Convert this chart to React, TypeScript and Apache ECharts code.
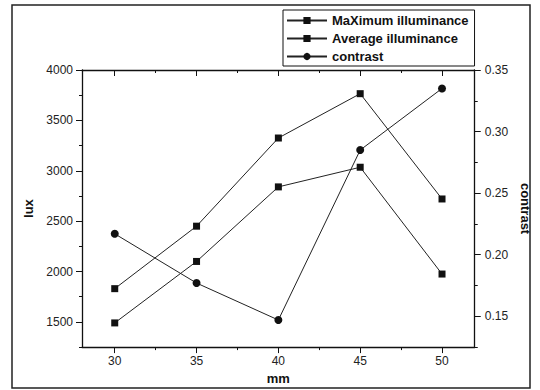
import React, { useEffect, useRef } from "react";
import * as echarts from "echarts";

const xValues = [30, 35, 40, 45, 50];
const maxIlluminance = [1830, 2450, 3325, 3765, 2720];
const avgIlluminance = [1490, 2100, 2840, 3035, 1975];
const contrast = [0.217, 0.177, 0.147, 0.285, 0.335];

const xMajorTicks = [30, 35, 40, 45, 50];
const xMinorTicks = [32.5, 37.5, 42.5, 47.5];
const luxMajorTicks = [1500, 2000, 2500, 3000, 3500, 4000];
const luxMinorTicks = [1250, 1750, 2250, 2750, 3250, 3750];
const contrastMajorTicks = [0.15, 0.2, 0.25, 0.3, 0.35];
const contrastMinorTicks = [0.125, 0.175, 0.225, 0.275, 0.325];

const seriesNames = ["MaXimum illuminance", "Average illuminance", "contrast"];

const FONT = "Liberation Sans, Arial, sans-serif";
const INK = "#111";

export default function App() {
  const ref = useRef<HTMLDivElement>(null);
  useEffect(() => {
    if (!ref.current) return;
    const chart = echarts.init(ref.current, null, { renderer: "svg" });
    const lineAxis = { lineStyle: { color: INK, width: 1.3 } };
    const baseX = { type: "value", min: 28, max: 52, splitLine: { show: false } };
    const baseLux = { type: "value", min: 1250, max: 4000, splitLine: { show: false } };
    const baseCon = { type: "value", min: 0.125, max: 0.35, splitLine: { show: false } };
    chart.setOption({
      animation: false,
      backgroundColor: "#fff",
      grid: { left: 82, right: 65, top: 70, bottom: 41, containLabel: false },
      graphic: [
        {
          type: "rect",
          shape: { x: 12, y: 5, width: 518, height: 383 },
          style: { fill: "none", stroke: "#222", lineWidth: 1.5 },
          silent: true,
        },
      ],
      legend: {
        orient: "vertical",
        left: 283,
        top: 10,
        padding: [4, 6, 3, 3],
        itemGap: 5,
        itemWidth: 40,
        itemHeight: 9,
        borderColor: INK,
        borderWidth: 1,
        backgroundColor: "#fff",
        data: seriesNames,
        textStyle: { fontFamily: FONT, fontSize: 13, fontWeight: "bold", color: INK },
      },
      xAxis: [
        {
          ...baseX,
          position: "bottom",
          name: "mm",
          nameLocation: "middle",
          nameGap: 24,
          nameTextStyle: { fontFamily: FONT, fontSize: 13, fontWeight: "bold", color: INK },
          axisLine: lineAxis,
          axisTick: { show: true, inside: false, length: 6, customValues: xMajorTicks, lineStyle: { color: INK } },
          axisLabel: { customValues: xMajorTicks, margin: 8, fontFamily: FONT, fontSize: 12, color: "#222" },
        },
        {
          ...baseX,
          position: "bottom",
          axisLine: { show: false },
          axisTick: { show: true, inside: false, length: 3, customValues: xMinorTicks, lineStyle: { color: INK } },
          axisLabel: { show: false },
        },
        {
          ...baseX,
          position: "top",
          axisLine: lineAxis,
          axisTick: { show: true, inside: true, length: 6, customValues: xMajorTicks, lineStyle: { color: INK } },
          axisLabel: { show: false },
        },
        {
          ...baseX,
          position: "top",
          axisLine: { show: false },
          axisTick: { show: true, inside: true, length: 3, customValues: xMinorTicks, lineStyle: { color: INK } },
          axisLabel: { show: false },
        },
      ],
      yAxis: [
        {
          ...baseLux,
          position: "left",
          name: "lux",
          nameLocation: "middle",
          nameGap: 47,
          nameTextStyle: { fontFamily: FONT, fontSize: 13, fontWeight: "bold", color: INK },
          axisLine: lineAxis,
          axisTick: { show: true, inside: false, length: 6, customValues: luxMajorTicks, lineStyle: { color: INK } },
          axisLabel: {
            customValues: luxMajorTicks,
            margin: 9,
            fontFamily: FONT,
            fontSize: 12,
            color: "#222",
            formatter: (v: number) => String(v),
          },
        },
        {
          ...baseCon,
          position: "right",
          name: "contrast",
          nameLocation: "middle",
          nameRotate: -90,
          nameGap: 42,
          nameTextStyle: { fontFamily: FONT, fontSize: 13, fontWeight: "bold", color: INK },
          axisLine: lineAxis,
          axisTick: { show: true, inside: false, length: 6, customValues: contrastMajorTicks, lineStyle: { color: INK } },
          axisLabel: {
            customValues: contrastMajorTicks,
            margin: 10,
            fontFamily: FONT,
            fontSize: 12,
            color: "#222",
            formatter: (v: number) => v.toFixed(2),
          },
        },
        {
          ...baseLux,
          position: "left",
          axisLine: { show: false },
          axisTick: { show: true, inside: false, length: 3, customValues: luxMinorTicks, lineStyle: { color: INK } },
          axisLabel: { show: false },
        },
        {
          ...baseCon,
          position: "right",
          axisLine: { show: false },
          axisTick: { show: true, inside: false, length: 3, customValues: contrastMinorTicks, lineStyle: { color: INK } },
          axisLabel: { show: false },
        },
      ],
      series: [
        {
          name: seriesNames[0],
          type: "line",
          xAxisIndex: 0,
          yAxisIndex: 0,
          data: xValues.map((x, i) => [x, maxIlluminance[i]]),
          symbol: "rect",
          symbolSize: 7,
          itemStyle: { color: INK },
          lineStyle: { color: "#222", width: 1 },
        },
        {
          name: seriesNames[1],
          type: "line",
          xAxisIndex: 0,
          yAxisIndex: 0,
          data: xValues.map((x, i) => [x, avgIlluminance[i]]),
          symbol: "rect",
          symbolSize: 7,
          itemStyle: { color: INK },
          lineStyle: { color: "#222", width: 1 },
        },
        {
          name: seriesNames[2],
          type: "line",
          xAxisIndex: 0,
          yAxisIndex: 1,
          data: xValues.map((x, i) => [x, contrast[i]]),
          symbol: "circle",
          symbolSize: 8,
          itemStyle: { color: INK },
          lineStyle: { color: "#222", width: 1 },
        },
      ],
    });
    return () => chart.dispose();
  }, []);
  return (
    <div
      ref={ref}
      style={{ position: "absolute", left: 0, top: 0, width: 540, height: 390 }}
    />
  );
}
